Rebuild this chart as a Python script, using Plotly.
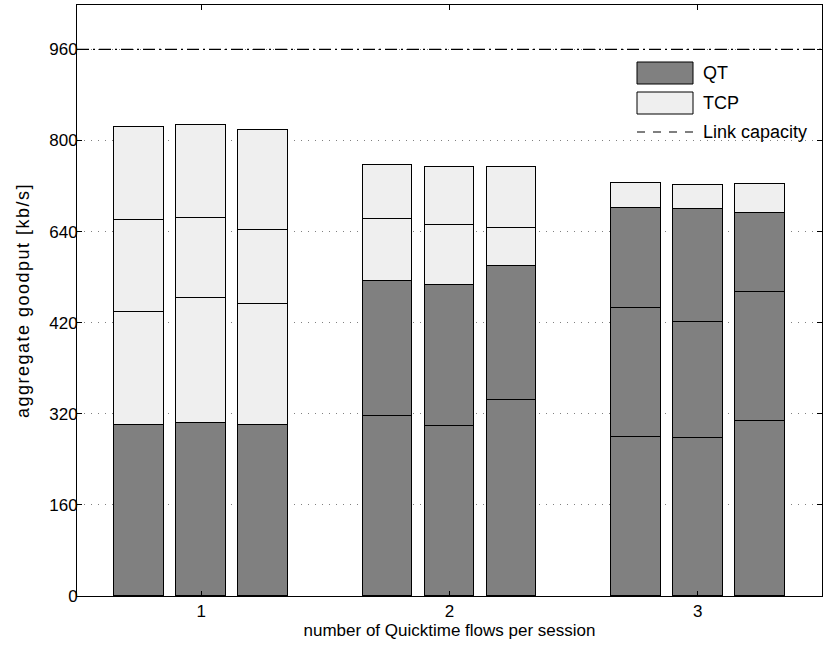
import plotly.graph_objects as go

groups = [1, 2, 3]
bar_offsets = [-0.25, 0.0, 0.25]
# per group, per bar: QT flow segments (bottom) and TCP flow segments (top)
qt_segments = [
    [[300], [303], [301]],
    [[316, 238], [298, 249], [345, 234]],
    [[279, 227, 175], [277, 204, 199], [307, 227, 138]],
]
tcp_segments = [
    [[198, 162, 163], [220, 141, 163], [212, 130, 176]],
    [[109, 94], [104, 103], [68, 107]],
    [[44], [41], [51]],
]
link_capacity = 960
y_tickvals = [0, 160, 320, 480, 640, 800, 960]
y_ticktext = ["0", "160", "320", "420", "640", "800", "960"]
x_ticktext = ["1", "2", "3"]

QT_COLOR = "#808080"
TCP_COLOR = "#efefef"
FONT = "Liberation Sans, Arial, sans-serif"
FS = 17

fig = go.Figure()

bars = []
for gi, g in enumerate(groups):
    for bi, off in enumerate(bar_offsets):
        segs = [(v, QT_COLOR, "QT") for v in qt_segments[gi][bi]] + \
               [(v, TCP_COLOR, "TCP") for v in tcp_segments[gi][bi]]
        bars.append((g + off, segs))

max_segs = max(len(s) for _, s in bars)
for k in range(max_segs):
    xs, ys, cols, names = [], [], [], []
    for x, segs in bars:
        if k < len(segs):
            xs.append(x)
            ys.append(segs[k][0])
            cols.append(segs[k][1])
            names.append(segs[k][2])
    fig.add_trace(go.Bar(
        x=xs, y=ys, width=0.2,
        marker=dict(color=cols, line=dict(color="black", width=1)),
        showlegend=False, hovertext=names,
    ))

# link capacity line
fig.add_trace(go.Scatter(
    x=[0.5, 3.5], y=[link_capacity, link_capacity], mode="lines",
    line=dict(color="black", width=1.2, dash="12px,4px,2px,4px"),
    showlegend=False, hoverinfo="skip",
))

# custom legend
ph = 591.0
pw = 745.0
def py(y):
    return (596 - y) / ph
leg_items = [("QT", "box", QT_COLOR, py(73)), ("TCP", "box", TCP_COLOR, py(103)),
             ("Link capacity", "line", None, py(132))]
shapes = []
annotations = []
x0 = (637 - 77) / pw
x1 = (693 - 77) / pw
xt = (701 - 77) / pw
for name, kind, col, yc in leg_items:
    if kind == "box":
        hh = 11 / ph
        shapes.append(dict(type="rect", xref="paper", yref="paper", x0=x0, x1=x1,
                           y0=yc - hh, y1=yc + hh, fillcolor=col,
                           line=dict(color="black", width=1)))
    else:
        shapes.append(dict(type="line", xref="paper", yref="paper", x0=x0, x1=x1,
                           y0=yc, y1=yc, line=dict(color="black", width=1.2, dash="8px,8px")))
    annotations.append(dict(text=name, xref="paper", yref="paper", x=xt, y=yc,
                            xanchor="left", yanchor="middle", showarrow=False,
                            font=dict(family=FONT, size=18, color="black")))

fig.update_layout(
    template="none",
    width=823, height=651,
    margin=dict(l=77, r=1, t=5, b=55),
    paper_bgcolor="white", plot_bgcolor="white",
    barmode="stack", bargap=0,
    font=dict(family=FONT, size=FS, color="black"),
    shapes=shapes, annotations=annotations,
    xaxis=dict(
        range=[0.5, 3.5], tickvals=groups, ticktext=x_ticktext,
        ticks="inside", ticklen=5, tickcolor="black",
        showline=True, linecolor="black", linewidth=1, mirror="ticks",
        showgrid=False, zeroline=False, automargin=False,
        title=dict(text="number of Quicktime flows per session", standoff=2,
                   font=dict(family=FONT, size=FS, color="black")),
        tickfont=dict(family=FONT, size=FS, color="black"),
    ),
    yaxis=dict(
        range=[0, 1038], tickvals=y_tickvals, ticktext=y_ticktext,
        ticks="inside", ticklen=5, tickcolor="black",
        showline=True, linecolor="black", linewidth=1, mirror="ticks",
        showgrid=True, gridcolor="#808080", griddash="1px,6px", gridwidth=1,
        zeroline=False, automargin=False, ticklabelstandoff=-5,
        title=dict(text='<span style="letter-spacing:1.5px">aggregate goodput [kb/s]</span>',
                   standoff=14, font=dict(family=FONT, size=18, color="black")),
        tickfont=dict(family=FONT, size=FS, color="black"),
    ),
)

fig.write_html("out.html", config={"displayModeBar": False},
               post_script="document.body.style.margin='0';")
